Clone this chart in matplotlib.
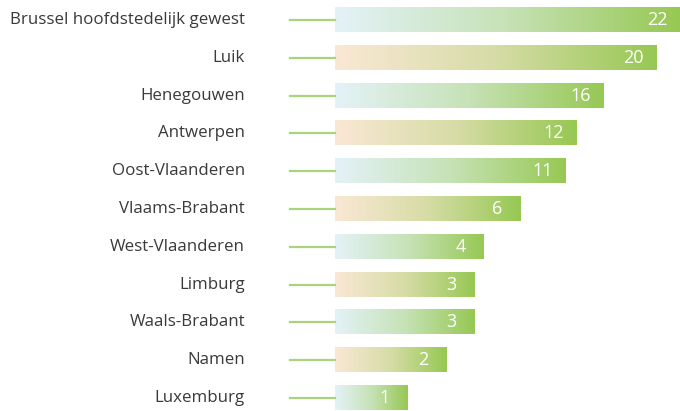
import numpy as np
import matplotlib
matplotlib.use("Agg")
import matplotlib.pyplot as plt
from matplotlib.colors import LinearSegmentedColormap

categories = ["Brussel hoofdstedelijk gewest", "Luik", "Henegouwen", "Antwerpen",
              "Oost-Vlaanderen", "Vlaams-Brabant", "West-Vlaanderen", "Limburg",
              "Waals-Brabant", "Namen", "Luxemburg"]
labels = [22, 20, 16, 12, 11, 6, 4, 3, 3, 2, 1]
# bar lengths as drawn in the reference (same scale as the top bar = 22)
bar_lengths = [22.0, 20.5, 17.1, 15.4, 14.7, 11.8, 9.5, 8.9, 8.9, 7.1, 4.6]

W, H = 680, 411
fig = plt.figure(figsize=(W / 100, H / 100), dpi=100)
fig.patch.set_facecolor("white")

x0_px, x1_px = 335, 680
ax = fig.add_axes([x0_px / W, 0, (x1_px - x0_px) / W, 1])
step = 37.8
top_c = 20
ax.axis("off")

green_end = "#97c853"
cmap_blue = LinearSegmentedColormap.from_list("b", ["#e4f2f8", "#c6e2b6", green_end])
cmap_peach = LinearSegmentedColormap.from_list("p", ["#fae8d5", "#d6dca6", green_end])

h = 0.635
grad = np.linspace(0, 1, 256).reshape(1, -1)
for i, (cat, lab, L) in enumerate(zip(categories, labels, bar_lengths)):
    cmap = cmap_blue if i % 2 == 0 else cmap_peach
    ax.imshow(grad, cmap=cmap, aspect="auto", extent=[0, L, i + h / 2, i - h / 2],
              interpolation="bilinear", zorder=2)
    ax.annotate(str(lab), xy=(L, i), xytext=(-23, 0), textcoords="offset pixels",
                ha="center", va="center", color="white", fontsize=13,
                family="Open Sans", zorder=3)

ax.set_xlim(0, 22)
ax.set_ylim(10 + (H - top_c - 10 * step) / step, -top_c / step)

# connector lines and category labels (figure pixel coordinates)
for i, cat in enumerate(categories):
    yc = H - (top_c + i * step)
    fig.add_artist(plt.Line2D([290 / W, 335 / W], [yc / H, yc / H],
                              transform=fig.transFigure, color="#a8d47c", lw=1.6))
    fig.text(245 / W, yc / H, cat, ha="right", va="center", fontsize=12.2,
             color="#3a3a3a", family="Open Sans")

fig.savefig("out.png", dpi=100, facecolor="white")
